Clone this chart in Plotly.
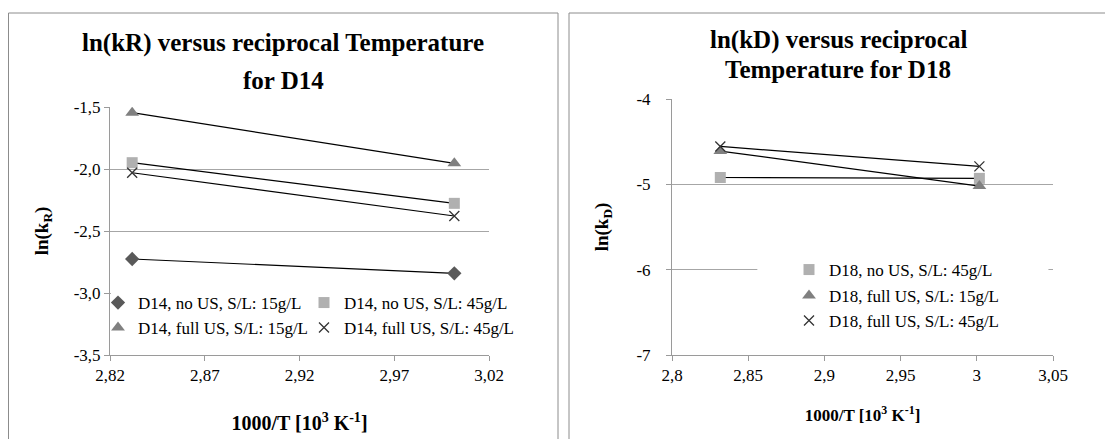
import plotly.graph_objects as go

# the page body adds an 8px margin, so the figure is drawn 8px smaller
OFF = 8
W, H = 1113 - OFF, 439 - OFF

# reciprocal temperature (80 C and 60 C)
inv_T = [2.8317, 3.0017]

# left panel: ln(kR) for D14
d14_names = ['D14, no US, S/L: 15g/L', 'D14, no US, S/L: 45g/L',
             'D14, full US, S/L: 15g/L', 'D14, full US, S/L: 45g/L']
d14_no_us_15 = [-2.726, -2.841]
d14_no_us_45 = [-1.949, -2.277]
d14_full_us_15 = [-1.546, -1.954]
d14_full_us_45 = [-2.030, -2.379]

# right panel: ln(kD) for D18
d18_names = ['D18, no US, S/L: 45g/L', 'D18, full US, S/L: 15g/L',
             'D18, full US, S/L: 45g/L']
d18_no_us_45 = [-4.92, -4.93]
d18_full_us_15 = [-4.61, -5.02]
d18_full_us_45 = [-4.556, -4.79]

# tick labels
left_xticks = [2.82, 2.87, 2.92, 2.97, 3.02]
left_xtext = ['2,82', '2,87', '2,92', '2,97', '3,02']
left_yticks = [-3.5, -3.0, -2.5, -2.0, -1.5]
left_ytext = ['-3,5', '-3,0', '-2,5', '-2,0', '-1,5']
right_xticks = [2.8, 2.85, 2.9, 2.95, 3.0, 3.05]
right_xtext = ['2,8', '2,85', '2,9', '2,95', '3', '3,05']
right_yticks = [-7, -6, -5, -4]
right_ytext = ['-7', '-6', '-5', '-4']

FONT = 'Liberation Serif, DejaVu Serif, serif'
GRID = '#a6a6a6'
AXIS = '#9a9a9a'

styles = {
    'diamond': dict(symbol='diamond', size=11, color='#595959'),
    'square': dict(symbol='square', size=11, color='#b0b0b0'),
    'triangle': dict(symbol='triangle-up', size=12, color='#808080'),
    'x': dict(symbol='x-thin', size=10, color='#333333',
              line=dict(width=1.3, color='#333333')),
}


def px_x(p):
    return (p - OFF) / W


def px_y(p):
    return 1 - (p - OFF) / H


fig = go.Figure()


def add_series(xs, ys, name, style, xa, ya, legend):
    # connecting line (black), then markers carrying the legend entry
    fig.add_trace(go.Scatter(x=xs, y=ys, mode='lines', xaxis=xa, yaxis=ya,
                             line=dict(color='black', width=1.2),
                             showlegend=False, hoverinfo='skip'))
    fig.add_trace(go.Scatter(x=xs, y=ys, mode='markers', xaxis=xa, yaxis=ya,
                             name=name, marker=styles[style], legend=legend))


add_series(inv_T, d14_no_us_15, d14_names[0], 'diamond', 'x', 'y', 'legend')
add_series(inv_T, d14_no_us_45, d14_names[1], 'square', 'x', 'y', 'legend2')
add_series(inv_T, d14_full_us_15, d14_names[2], 'triangle', 'x', 'y', 'legend3')
add_series(inv_T, d14_full_us_45, d14_names[3], 'x', 'x', 'y', 'legend4')

add_series(inv_T, d18_no_us_45, d18_names[0], 'square', 'x2', 'y2', 'legend5')
add_series(inv_T, d18_full_us_15, d18_names[1], 'triangle', 'x2', 'y2', 'legend6')
add_series(inv_T, d18_full_us_45, d18_names[2], 'x', 'x2', 'y2', 'legend7')


def legend_at(x_px, y_px):
    return dict(x=px_x(x_px), y=px_y(y_px), xanchor='left', yanchor='middle',
                bgcolor='rgba(0,0,0,0)', font=dict(family=FONT, size=17, color='black'),
                itemwidth=30)


axis_common = dict(showline=True, linecolor=AXIS, linewidth=1, ticks='outside',
                   ticklen=5, tickcolor=AXIS, zeroline=False, mirror=False,
                   automargin=False)

fig.update_layout(
    width=W, height=H,
    margin=dict(l=0, r=0, t=0, b=0, autoexpand=False),
    paper_bgcolor='white', plot_bgcolor='white',
    font=dict(family=FONT, color='black'),
    xaxis=dict(domain=[px_x(110), px_x(489)], range=[2.82, 3.02],
               tickvals=left_xticks, ticktext=left_xtext, showgrid=False,
               tickfont=dict(family=FONT, size=17, color='black'),
               title=dict(text='1000/T [10<sup>3</sup> K<sup>-1</sup>]',
                          font=dict(family=FONT, size=20, color='black', weight='bold'),
                          standoff=31),
               anchor='y', **axis_common),
    yaxis=dict(domain=[px_y(355), px_y(107)], range=[-3.5, -1.5],
               tickvals=left_yticks, ticktext=left_ytext, showgrid=True,
               gridcolor=GRID, gridwidth=1,
               tickfont=dict(family=FONT, size=17, color='black'),
               title=dict(text='ln(k<sub>R</sub>)',
                          font=dict(family=FONT, size=19, color='black', weight='bold'),
                          standoff=20),
               anchor='x', **axis_common),
    xaxis2=dict(domain=[px_x(672), px_x(1053)], range=[2.8, 3.05],
                tickvals=right_xticks, ticktext=right_xtext, showgrid=False,
                tickfont=dict(family=FONT, size=17, color='black'),
                title=dict(text='1000/T [10<sup>3</sup> K<sup>-1</sup>]',
                           font=dict(family=FONT, size=17, color='black', weight='bold'),
                           standoff=24),
                anchor='y2', **axis_common),
    yaxis2=dict(domain=[px_y(355), px_y(99)], range=[-7, -4],
                tickvals=right_yticks, ticktext=right_ytext, showgrid=True,
                gridcolor=GRID, gridwidth=1, ticklabelstandoff=12,
                tickfont=dict(family=FONT, size=17, color='black'),
                title=dict(text='ln(k<sub>D</sub>)',
                           font=dict(family=FONT, size=19, color='black', weight='bold'),
                           standoff=22),
                anchor='x2', **axis_common),
    legend=legend_at(98, 303),
    legend2=legend_at(304, 303),
    legend3=legend_at(98, 328),
    legend4=legend_at(304, 328),
    legend5=legend_at(789, 270),
    legend6=legend_at(789, 296),
    legend7=legend_at(789, 321),
    showlegend=True,
)

# chart titles
titles = [
    ('ln(kR) versus reciprocal Temperature', 283, 43, 25),
    ('for D14', 283, 80, 25),
    ('ln(kD) versus reciprocal', 838, 40, 25),
    ('Temperature for D18', 838, 70, 25),
]
for text, cx, cy, size in titles:
    fig.add_annotation(text=text, x=px_x(cx), y=px_y(cy), xref='paper', yref='paper',
                       xanchor='center', yanchor='middle', showarrow=False,
                       font=dict(family=FONT, size=size, color='black', weight='bold'))

# white backing behind the legends (hides the gridline there)
fig.add_shape(type='rect', xref='x', yref='y', x0=2.8205, x1=3.02, y0=-3.03, y1=-2.97,
              fillcolor='white', line=dict(width=0), layer='above')
fig.add_shape(type='rect', xref='x2', yref='y2', x0=2.856, x1=3.047, y0=-6.04, y1=-5.96,
              fillcolor='white', line=dict(width=0), layer='above')

# panel frames
fig.add_shape(type='rect', xref='paper', yref='paper', x0=px_x(8.5), x1=px_x(558),
              y0=-0.05, y1=px_y(13), line=dict(color='#8c8c8c', width=1), layer='below')
fig.add_shape(type='rect', xref='paper', yref='paper', x0=px_x(569), x1=1.02,
              y0=-0.05, y1=px_y(13), line=dict(color='#8c8c8c', width=1), layer='below')

fig.write_html("out.html")
